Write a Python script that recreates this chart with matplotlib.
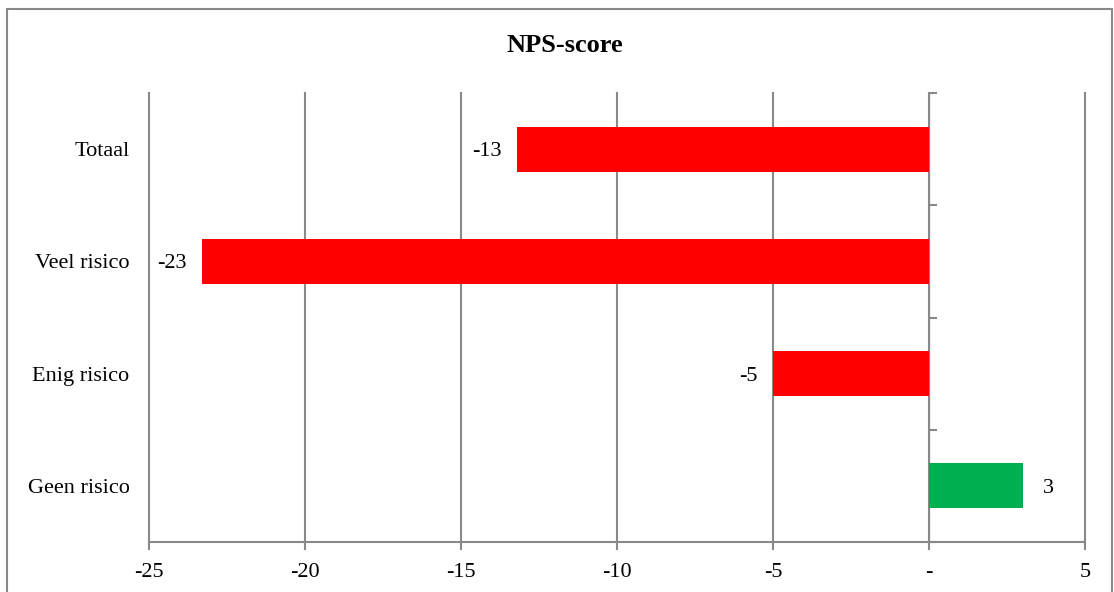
import matplotlib
matplotlib.use('Agg')
import matplotlib.pyplot as plt
from matplotlib.patches import Rectangle

# Data
categories = ['Geen risico', 'Enig risico', 'Veel risico', 'Totaal']
scores = [3.0, -5.0, -23.3, -13.2]
score_labels = ['3', '-5', '-23', '-13']
colors = ['#00B050', '#FF0000', '#FF0000', '#FF0000']
x_ticks = [-25, -20, -15, -10, -5, 0, 5]
x_tick_labels = ['-25', '-20', '-15', '-10', '-5', '-', '5']

plt.rcParams['font.family'] = ['Liberation Serif', 'DejaVu Serif']
grey = '#898989'
fs = 16

fig = plt.figure(figsize=(11.14, 5.92), dpi=100)
ax = fig.add_axes([149 / 1114, 50 / 592, 936 / 1114, 449 / 592])

y = list(range(len(categories)))
ax.barh(y, scores, height=0.4, color=colors, zorder=3)

ax.set_xlim(-25, 5)
ax.set_ylim(-0.5, len(categories) - 0.5)
ax.set_xticks(x_ticks)
ax.set_xticklabels(x_tick_labels, fontsize=fs)
ax.set_yticks(y)
ax.set_yticklabels(categories, fontsize=fs)
ax.tick_params(axis='y', length=0, pad=14)
ax.tick_params(axis='x', length=6, width=1.5, color=grey, pad=9, direction='out')

# vertical gridlines
ax.grid(axis='x', color=grey, linewidth=1.5, zorder=0)
for line in ax.get_xgridlines():
    line.set_clip_on(False)
for s in ['top', 'right', 'left']:
    ax.spines[s].set_visible(False)
ax.spines['bottom'].set_color(grey)
ax.spines['bottom'].set_linewidth(1.5)

# zero axis with category boundary ticks
zero_loc = (0 - x_ticks[0]) / (x_ticks[-1] - x_ticks[0])
sec = ax.secondary_yaxis(zero_loc)
sec.set_yticks([i - 0.5 for i in range(len(categories) + 1)])
sec.set_yticklabels([])
sec.tick_params(direction='out', length=6, width=1.5, color=grey)
sec.spines['left'].set_color(grey)
sec.spines['left'].set_linewidth(1.5)

# data labels
for yi, v, lab in zip(y, scores, score_labels):
    if v < 0:
        ax.annotate(lab, (v, yi), xytext=(-11, 0), textcoords='offset points',
                    ha='right', va='center_baseline', fontsize=fs)
    else:
        ax.annotate(lab, (v, yi), xytext=(15, 0), textcoords='offset points',
                    ha='left', va='center_baseline', fontsize=fs)

fig.text(565 / 1114, 1 - 46 / 592, 'NPS-score', ha='center', va='center',
         fontsize=19, fontweight='bold')

# chart frame
fig.patches.append(Rectangle((7 / 1114, -0.05), 1105 / 1114, 1.05 - 9 / 592,
                             transform=fig.transFigure, fill=False,
                             edgecolor=grey, linewidth=1.5))

fig.savefig('out.png', dpi=100)
